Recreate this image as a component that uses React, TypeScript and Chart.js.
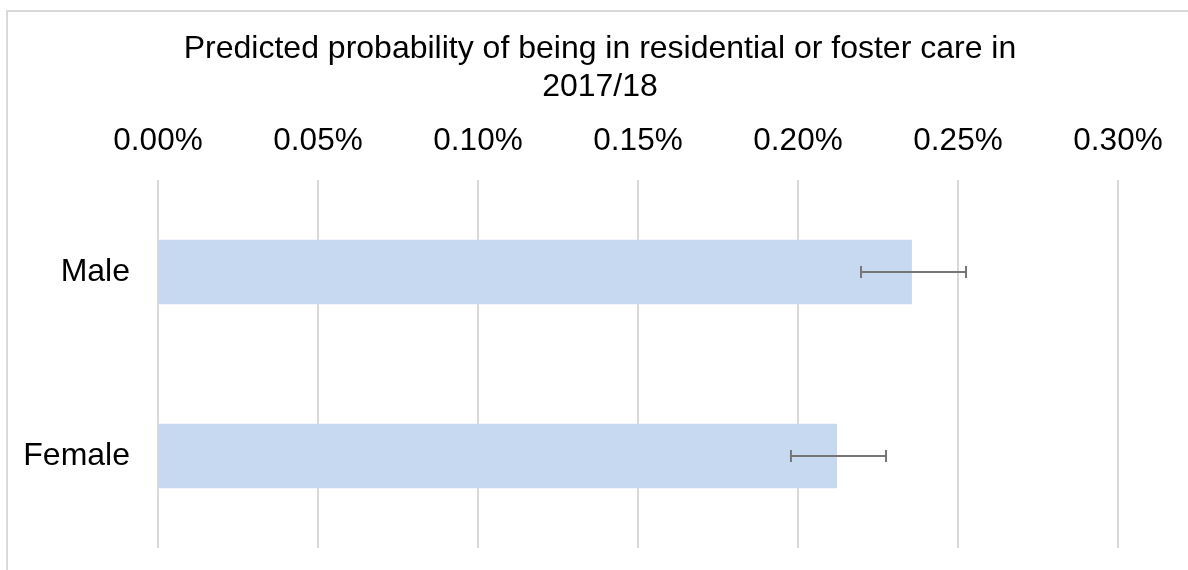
import React, { useEffect, useRef } from "react";
import { Chart, registerables } from "chart.js";

Chart.register(...registerables);

const categories = ["Male", "Female"];
const probabilities = [0.2356, 0.2122];
const lowerBounds = [0.2197, 0.1978];
const upperBounds = [0.2525, 0.2275];
const tickValues = [0, 0.05, 0.1, 0.15, 0.2, 0.25, 0.3];
const titleLines = ["Predicted probability of being in residential or foster care in", "2017/18"];

const FONT = "'Liberation Sans', Arial, sans-serif";

const errorBarPlugin = {
  id: "errorBars",
  afterDatasetsDraw(chart: any) {
    const ctx = chart.ctx;
    const xs = chart.scales.x;
    const ys = chart.scales.y;
    ctx.save();
    ctx.strokeStyle = "#767676";
    ctx.lineWidth = 2;
    categories.forEach((_, i) => {
      const y = ys.getPixelForValue(i);
      const x1 = xs.getPixelForValue(lowerBounds[i]);
      const x2 = xs.getPixelForValue(upperBounds[i]);
      ctx.beginPath();
      ctx.moveTo(x1, y);
      ctx.lineTo(x2, y);
      ctx.moveTo(x1, y - 6);
      ctx.lineTo(x1, y + 6);
      ctx.moveTo(x2, y - 6);
      ctx.lineTo(x2, y + 6);
      ctx.stroke();
    });
    ctx.restore();
  },
};

export default function App() {
  const ref = useRef<HTMLCanvasElement>(null);
  useEffect(() => {
    if (!ref.current) return;
    const chart = new Chart(ref.current, {
      type: "bar",
      data: {
        labels: categories,
        datasets: [
          {
            data: probabilities,
            backgroundColor: "#c6d9f1",
            borderWidth: 0,
            barPercentage: 0.35,
            categoryPercentage: 1,
          },
        ],
      },
      options: {
        indexAxis: "y",
        animation: false,
        responsive: false,
        layout: { padding: { left: 12, right: 0, top: 0, bottom: 22 } },
        plugins: {
          legend: { display: false },
          tooltip: { enabled: false },
          title: {
            display: true,
            text: titleLines,
            color: "#000",
            font: { family: FONT, size: 32, weight: "normal", lineHeight: 1.2 },
            padding: { top: 30, bottom: 0 },
          },
        },
        scales: {
          x: {
            position: "top",
            min: 0,
            max: 0.3,
            afterBuildTicks(scale: any) {
              scale.ticks = tickValues.map((v) => ({ value: v }));
            },
            afterFit(scale: any) {
              scale.height = 73.2;
            },
            ticks: {
              color: "#000",
              font: { family: FONT, size: 31.5 },
              padding: 20,
              callback: (v: any) => Number(v).toFixed(2) + "%",
            },
            grid: { color: "#d9d9d9", lineWidth: 2, drawTicks: false },
            border: { display: false },
          },
          y: {
            afterFit(scale: any) {
              scale.width = 146;
              scale.paddingTop = 0;
              scale.paddingBottom = 0;
            },
            ticks: {
              color: "#000",
              font: { family: FONT, size: 32 },
              padding: 28,
            },
            grid: { display: false, drawTicks: false },
            border: { display: false },
          },
          y2: {
            type: "category",
            position: "right",
            afterFit(scale: any) {
              scale.width = 70;
              scale.paddingTop = 0;
              scale.paddingBottom = 0;
            },
            ticks: { display: false },
            grid: { display: false, drawTicks: false },
            border: { display: false },
          },
        },
      },
      plugins: [errorBarPlugin],
    });
    return () => chart.destroy();
  }, []);
  return (
    <div style={{ position: "absolute", left: 0, top: 0, width: 1188, height: 570, background: "#fff", overflow: "hidden" }}>
      <div
        style={{
          position: "absolute",
          left: 6,
          top: 10,
          width: 1200,
          height: 600,
          borderTop: "2px solid #d9d9d9",
          borderLeft: "2px solid #d9d9d9",
        }}
      />
      <canvas ref={ref} width={1188} height={570} style={{ position: "absolute", left: 0, top: 0, display: "block" }} />
    </div>
  );
}
